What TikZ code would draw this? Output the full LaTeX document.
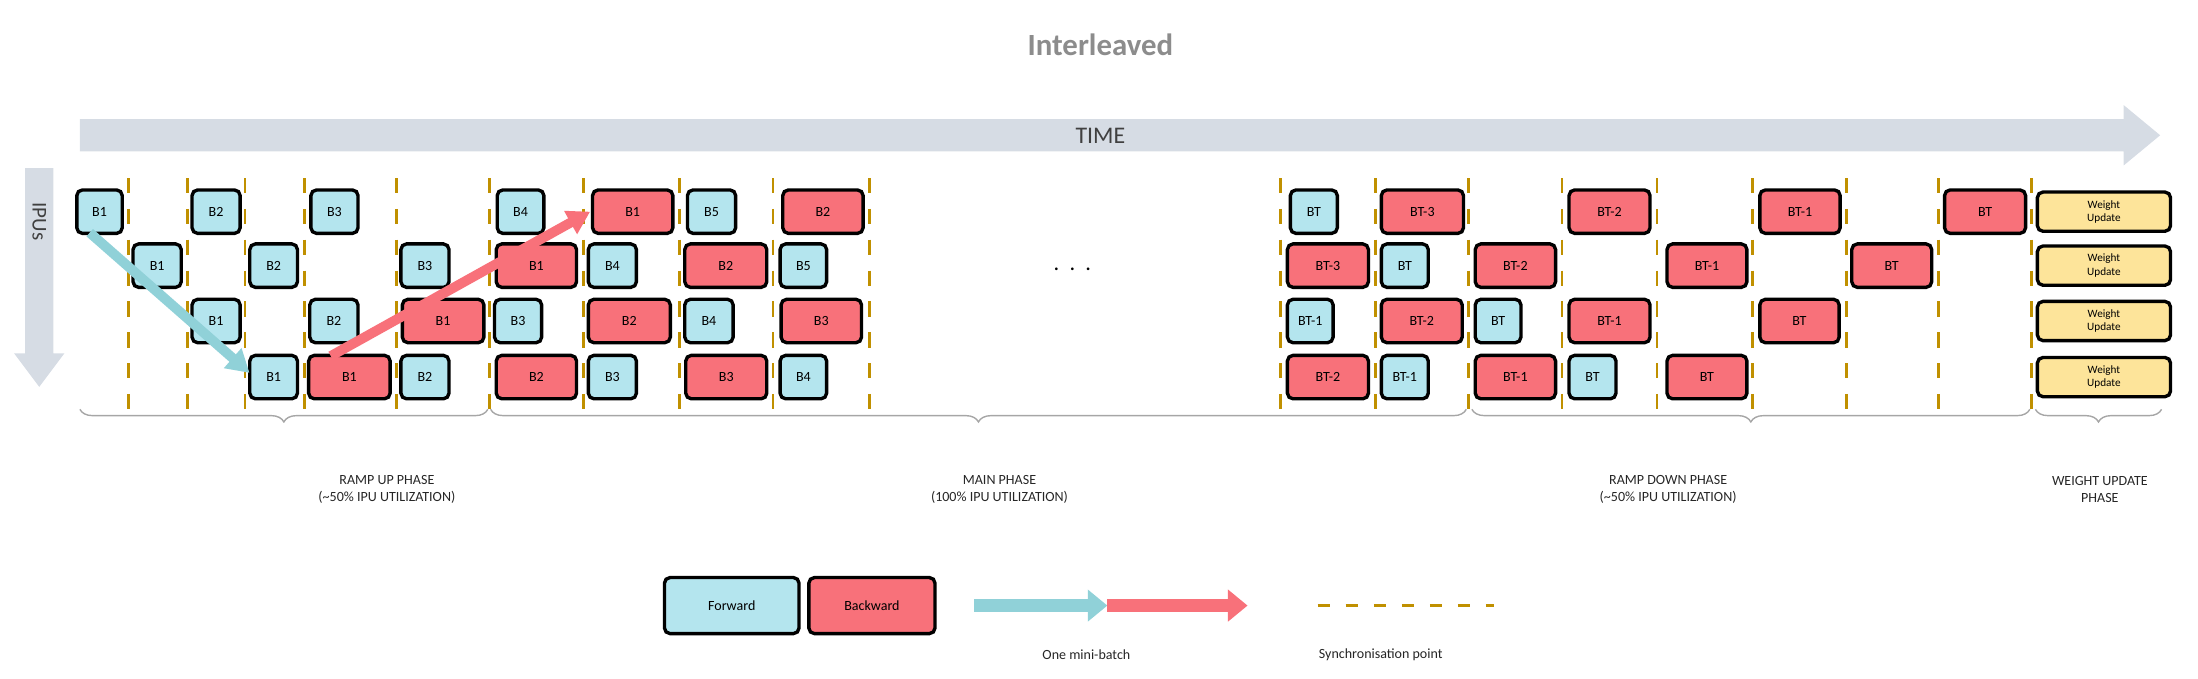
\documentclass[tikz,border=0pt]{standalone}
\usepackage{fontspec}
\setmainfont{Carlito}
\usetikzlibrary{arrows.meta,decorations.pathreplacing}
\definecolor{fwc}{HTML}{B4E5EE}
\definecolor{bwc}{HTML}{F8717A}
\definecolor{wuc}{HTML}{FDE49A}
\definecolor{syncc}{HTML}{C09000}
\definecolor{timec}{HTML}{D6DCE4}
\definecolor{bracec}{HTML}{A6A6A6}
\tikzset{
  box/.style={draw=black,line width=2.4pt,rounded corners=4pt,minimum height=31pt,inner sep=0pt,font=\fontsize{10}{12}\selectfont},
  fw/.style={box,fill=fwc},
  bw/.style={box,fill=bwc},
  wu/.style={box,fill=wuc,minimum height=28pt,font=\fontsize{8}{9.5}\selectfont,align=center},
  sync/.style={draw=syncc,line width=2pt,dash pattern=on 11pt off 11pt},
  brace/.style={draw=bracec,line width=1pt,decorate,decoration={brace,mirror,amplitude=9pt}},
  lbl/.style={font=\fontsize{10}{12}\selectfont,align=center,text=black!85},
}
\newcommand\bx[6]{\node[#1,minimum width={#3-#2}] (#6) at ({(#2+#3)/2},#4) {#5};}
\begin{document}
\begin{tikzpicture}[x=1pt,y=-1pt]
\useasboundingbox (0,0) rectangle (1568,484);
% title
\node[font=\fontsize{22}{26}\selectfont\bfseries,text=black!45] (title) at (785,32) {Interleaved};
% TIME arrow
\fill[timec] (57,85) -- (1515,85) -- (1515,75) -- (1541,96.5) -- (1515,118) -- (1515,108) -- (57,108) -- cycle;
\node[font=\fontsize{17}{20}\selectfont,text=black!75] (time) at (785,97) {TIME};
% IPUs arrow
\fill[timec] (18,120) -- (38,120) -- (38,252) -- (46,252) -- (28,276) -- (10,252) -- (18,252) -- cycle;
\node[rotate=-90,font=\fontsize{15}{18}\selectfont,text=black!75] (ipus) at (28,158) {IPUs};
% sync lines
\foreach \x in {91.4,133.9,174.8,217.2,282.9,349.0,416.2,484.6,551.5,620.3,913.4,981.2,1047.3,1114.3,1182.1,1250.3,1317.3,1383,1449.2}
  \draw[sync] (\x,127) -- (\x,292);
% rows
\def\ra{151}\def\rb{189.5}\def\rc{229}\def\rd{269}
% row 1
\bx{fw}{54.8}{87.2}{\ra}{B1}{a1}
\bx{fw}{137}{171.3}{\ra}{B2}{a2}
\bx{fw}{221.8}{255.4}{\ra}{B3}{a3}
\bx{fw}{354.7}{388}{\ra}{B4}{a4}
\bx{bw}{422.7}{480}{\ra}{B1}{a5}
\bx{fw}{490.4}{524.8}{\ra}{B5}{a6}
\bx{bw}{558.4}{615.7}{\ra}{B2}{a7}
% row 2
\bx{fw}{94.9}{129.3}{\rb}{B1}{b1}
\bx{fw}{178.2}{212.2}{\rb}{B2}{b2}
\bx{fw}{286}{320.3}{\rb}{B3}{b3}
\bx{bw}{354}{411.3}{\rb}{B1}{b4}
\bx{fw}{419.7}{454}{\rb}{B4}{b5}
\bx{bw}{488.5}{547}{\rb}{B2}{b6}
\bx{fw}{556.5}{589.7}{\rb}{B5}{b7}
% row 3
\bx{fw}{137}{171.3}{\rc}{B1}{c1}
\bx{fw}{221}{255.4}{\rc}{B2}{c2}
\bx{bw}{287}{345.2}{\rc}{B1}{c3}
\bx{fw}{352.8}{386.4}{\rc}{B3}{c4}
\bx{bw}{419.7}{478.2}{\rc}{B2}{c5}
\bx{fw}{488.5}{523}{\rc}{B4}{c6}
\bx{bw}{557.2}{614.6}{\rc}{B3}{c7}
% row 4
\bx{fw}{178.2}{212.2}{\rd}{B1}{d1}
\bx{bw}{220.2}{278.3}{\rd}{B1}{d2}
\bx{fw}{286}{320.3}{\rd}{B2}{d3}
\bx{bw}{354}{411.3}{\rd}{B2}{d4}
\bx{fw}{419.7}{454}{\rd}{B3}{d5}
\bx{bw}{489.2}{547}{\rd}{B3}{d6}
\bx{fw}{556.5}{589.7}{\rd}{B4}{d7}
% dots
\node[font=\fontsize{16}{18}\selectfont] (dots) at (765,192) {.\ \ .\ \ .};
% right part row 1
\bx{fw}{920.5}{954}{\ra}{BT}{e1}
\bx{bw}{985.4}{1044}{\ra}{BT-3}{e2}
\bx{bw}{1119.3}{1177.1}{\ra}{BT-2}{e3}
\bx{bw}{1255.4}{1312.7}{\ra}{BT-1}{e4}
\bx{bw}{1387.2}{1445}{\ra}{BT}{e5}
\bx{wu}{1453.4}{1548.4}{\ra}{Weight\\Update}{e6}
% row 2
\bx{bw}{918.4}{976.2}{\rb}{BT-3}{f1}
\bx{fw}{985.4}{1018.9}{\rb}{BT}{f2}
\bx{bw}{1052.4}{1109.7}{\rb}{BT-2}{f3}
\bx{bw}{1189.2}{1246.2}{\rb}{BT-1}{f4}
\bx{bw}{1321}{1378}{\rb}{BT}{f5}
\bx{wu}{1453.4}{1548.4}{\rb}{Weight\\Update}{f6}
% row 3
\bx{fw}{918.4}{951}{\rc}{BT-1}{g1}
\bx{bw}{985.4}{1043.1}{\rc}{BT-2}{g2}
\bx{fw}{1052.4}{1085}{\rc}{BT}{g3}
\bx{bw}{1119.3}{1177.1}{\rc}{BT-1}{g4}
\bx{bw}{1255.4}{1312}{\rc}{BT}{g5}
\bx{wu}{1453.4}{1548.4}{\rc}{Weight\\Update}{g6}
% row 4
\bx{bw}{918.4}{976.2}{\rd}{BT-2}{h1}
\bx{fw}{985.4}{1018.9}{\rd}{BT-1}{h2}
\bx{bw}{1052.4}{1109.7}{\rd}{BT-1}{h3}
\bx{fw}{1119.3}{1152.8}{\rd}{BT}{h4}
\bx{bw}{1189.2}{1246.2}{\rd}{BT}{h5}
\bx{wu}{1453.4}{1548.4}{\rd}{Weight\\Update}{h6}
% mini-batch arrows
\coordinate (s1) at (64,166);
\coordinate (t1) at (178,266);
\coordinate (s2) at (236,254);
\coordinate (t2) at (421,151);
\draw[fwc!80!teal,line width=7pt,-{Triangle[length=16pt,width=18pt]}] (s1) -- (t1);
\draw[bwc,line width=7pt,-{Triangle[length=16pt,width=18pt]}] (s2) -- (t2);
% braces
\draw[brace] (57,292) -- (348,292);
\draw[brace] (350,292) -- (1046,292);
\draw[brace] (1050,292) -- (1448,292);
\draw[brace] (1452,292) -- (1542,292);
\node[lbl] (p1) at (276,349) {RAMP UP PHASE\\(\textasciitilde50\% IPU UTILIZATION)};
\node[lbl] (p2) at (713,349) {MAIN PHASE\\(100\% IPU UTILIZATION)};
\node[lbl] (p3) at (1190,349) {RAMP DOWN PHASE\\(\textasciitilde50\% IPU UTILIZATION)};
\node[lbl] (p4) at (1498,349) {WEIGHT UPDATE\\PHASE};
% legend
\node[fw,minimum width=96pt,minimum height=40pt] (lf) at (522,432) {Forward};
\node[bw,minimum width=90pt,minimum height=40pt] (lb) at (622,432) {Backward};
\coordinate (m0) at (695,432);
\coordinate (m1) at (790,432);
\coordinate (m2) at (890,432);
\draw[fwc!80!teal,line width=9pt,-{Triangle[length=14pt,width=22pt]}] (m0) -- (m1);
\draw[bwc,line width=9pt,-{Triangle[length=14pt,width=22pt]}] (m1) -- (m2);
\node[lbl] (mb) at (775,467) {One mini-batch};
\coordinate (y0) at (940,432);
\coordinate (y1) at (1066,432);
\draw[syncc,line width=2.5pt,dash pattern=on 9pt off 11pt] (y0) -- (y1);
\node[lbl] (sp) at (985,467) {Synchronisation point};
\end{tikzpicture}
\end{document}
